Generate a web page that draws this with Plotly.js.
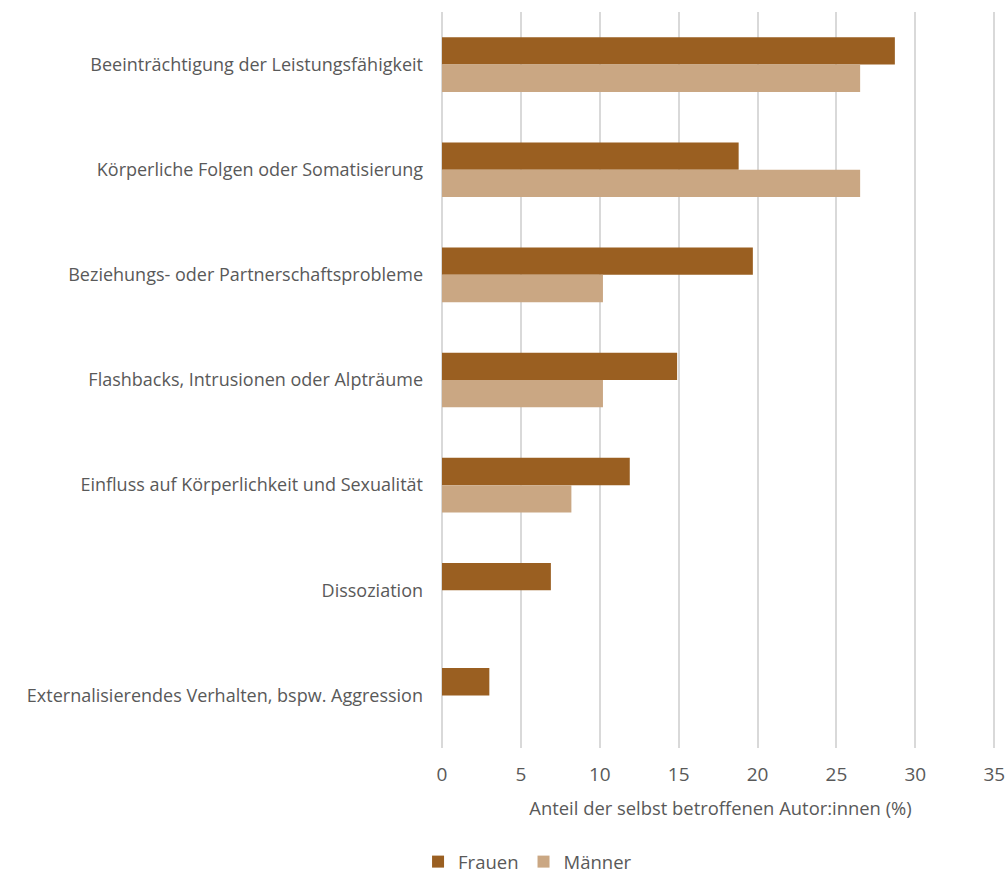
<!DOCTYPE html>
<html>
<head>
<meta charset="utf-8">
<script src="https://cdn.plot.ly/plotly-3.0.1.min.js"></script>
<style>html,body{margin:0;padding:0;background:#fff;}#chart{width:1005px;height:873px;}</style>
</head>
<body>
<div id="chart"></div>
<script>
const categories = [
  "Beeinträchtigung der Leistungsfähigkeit",
  "Körperliche Folgen oder Somatisierung",
  "Beziehungs- oder Partnerschaftsprobleme",
  "Flashbacks, Intrusionen oder Alpträume",
  "Einfluss auf Körperlichkeit und Sexualität",
  "Dissoziation",
  "Externalisierendes Verhalten, bspw. Aggression"
];
const frauen = [28.7, 18.8, 19.7, 14.9, 11.9, 6.9, 3.0];
const maenner = [26.5, 26.5, 10.2, 10.2, 8.2, 0, 0];
const xTicks = [0, 5, 10, 15, 20, 25, 30, 35];

const textColor = "#595959";
const fontFam = "'Open Sans', sans-serif";

const traces = [
  {type: "bar", orientation: "h", name: "Frauen", y: categories, x: frauen,
   marker: {color: "#9a5f21"}, hoverinfo: "x+name"},
  {type: "bar", orientation: "h", name: "Männer", y: categories, x: maenner,
   marker: {color: "#caa783"}, hoverinfo: "x+name"}
];

const layout = {
  width: 1005, height: 873,
  margin: {l: 442, r: 6, t: 12, b: 125, autoexpand: false},
  paper_bgcolor: "#fff", plot_bgcolor: "#fff",
  font: {family: fontFam, color: textColor, size: 18},
  barmode: "group",
  bargap: 0.48,
  bargroupgap: 0,
  showlegend: true,
  legend: {orientation: "h", x: -0.043, xanchor: "left", y: -0.155, yanchor: "middle",
           font: {size: 18.5, color: textColor}, itemwidth: 30, traceorder: "normal"},
  xaxis: {
    range: [0, 35.3], tickvals: xTicks, ticktext: xTicks.map(String),
    showgrid: true, gridcolor: "#d9d9d9", gridwidth: 2,
    zeroline: true, zerolinecolor: "#d9d9d9", zerolinewidth: 2,
    showline: false, ticks: "", ticklabelstandoff: 13, ticklabeloverflow: "allow",
    tickfont: {size: 19, color: textColor},
    title: {text: "Anteil der selbst betroffenen Autor:innen (%)", font: {size: 18.4, color: textColor}, standoff: 16}
  },
  yaxis: {
    autorange: "reversed", type: "category",
    showgrid: false, zeroline: false, showline: false, ticks: "",
    ticklabelstandoff: 18,
    tickfont: {size: 18, color: textColor}
  }
};

Plotly.newPlot("chart", traces, layout, {displayModeBar: false, staticPlot: true});
</script>
</body>
</html>
